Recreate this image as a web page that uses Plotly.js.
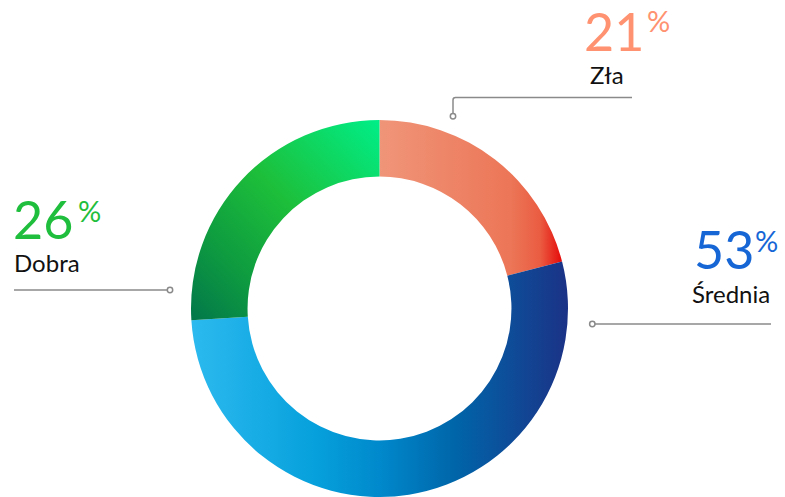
<!DOCTYPE html>
<html>
<head>
<meta charset="utf-8">
<script src="https://cdn.plot.ly/plotly-3.0.1.min.js"></script>
<style>
html,body{margin:0;padding:0;background:#fff;}
#chart{width:785px;height:497px;}
</style>
</head>
<body>
<div id="chart"></div>
<script>
// ---- data ----
const categories = ['Zła', 'Średnia', 'Dobra'];
const percents = [21, 53, 26];

// ---- styling ----
const W = 785, H = 497;
const X = p => p / W;
const Y = p => 1 - p / H;
const FONT = 'Lato, "Open Sans", sans-serif';
const textColors = ['#FF9270', '#1766D6', '#1FBE3C'];
const baseColors = ['#EC7A5E', '#0088CC', '#1BC03C'];
const gradients = [
  {x1:0, y1:0, x2:1, y2:0, stops:[[0,'#F09579'],[0.72,'#EC7657'],[0.88,'#EA5C42'],[1,'#E50A0A']]},
  {x1:0, y1:0, x2:1, y2:0, stops:[[0,'#2CBAEF'],[0.33,'#06A0DC'],[0.5,'#0089CC'],[0.7,'#0065A9'],[0.86,'#0F4A97'],[1,'#1B3286']]},
  {x1:1, y1:0, x2:0, y2:1, stops:[[0,'#00EE88'],[0.45,'#1DBF3A'],[0.75,'#0E9B40'],[1,'#02774A']]}
];

// label placement (pixels)
const place = [
  {nx:585, ny:31, px:647, py:20, lx:590, ly:74},
  {nx:695, ny:249, px:755, py:241, lx:692, ly:293},
  {nx:14, ny:219, px:78, py:210, lx:14, ly:262}
];

const annotations = [];
categories.forEach((c, i) => {
  const p = place[i];
  annotations.push({xref:'paper', yref:'paper', x:X(p.nx - 3), y:Y(p.ny), xanchor:'left', yanchor:'middle',
    height:46, valign:'middle',
    text:String(percents[i]), showarrow:false, font:{family:FONT, size:52, color:textColors[i]}});
  annotations.push({xref:'paper', yref:'paper', x:X(p.px - 2), y:Y(p.py), xanchor:'left', yanchor:'middle',
    text:'%', showarrow:false, font:{family:FONT, size:29, color:textColors[i]}});
  annotations.push({xref:'paper', yref:'paper', x:X(p.lx - 2), y:Y(p.ly), xanchor:'left', yanchor:'middle',
    height:24, valign:'middle',
    text:c, showarrow:false, font:{family:FONT, size:24, color:'#111111'}});
});

const lineStyle = {color:'#8a8a8a', width:1.5};
const shapes = [
  {type:'path', xref:'paper', yref:'paper',
   path:`M ${X(453)} ${Y(113)} L ${X(453)} ${Y(100)} Q ${X(453)} ${Y(97.5)} ${X(455.5)} ${Y(97.5)} L ${X(632)} ${Y(97.5)}`,
   line:lineStyle},
  {type:'circle', xref:'paper', yref:'paper', x0:X(450.3), x1:X(455.7), y0:Y(113.6), y1:Y(119), line:lineStyle, fillcolor:'#fff'},
  {type:'line', xref:'paper', yref:'paper', x0:X(595), x1:X(771), y0:Y(324), y1:Y(324), line:lineStyle},
  {type:'circle', xref:'paper', yref:'paper', x0:X(589.6), x1:X(595), y0:Y(321.3), y1:Y(326.7), line:lineStyle, fillcolor:'#fff'},
  {type:'line', xref:'paper', yref:'paper', x0:X(14), x1:X(167.5), y0:Y(290), y1:Y(290), line:lineStyle},
  {type:'circle', xref:'paper', yref:'paper', x0:X(167.3), x1:X(172.7), y0:Y(287.3), y1:Y(292.7), line:lineStyle, fillcolor:'#fff'}
];

const trace = {
  type:'pie',
  labels:categories,
  values:percents,
  hole:0.70,
  sort:false,
  direction:'clockwise',
  rotation:0,
  textinfo:'none',
  hoverinfo:'none',
  marker:{colors:baseColors, line:{width:0}},
  domain:{x:[X(190.8), X(568.2)], y:[0, Y(120)]},
  showlegend:false
};

const layout = {
  width:W, height:H,
  margin:{l:0, r:0, t:0, b:0},
  paper_bgcolor:'#ffffff',
  plot_bgcolor:'#ffffff',
  showlegend:false,
  annotations:annotations,
  shapes:shapes,
  font:{family:FONT}
};

Plotly.newPlot('chart', [trace], layout, {staticPlot:true, displayModeBar:false}).then(gd => {
  const svg = gd.querySelector('svg.main-svg');
  const NS = 'http://www.w3.org/2000/svg';
  const defs = document.createElementNS(NS, 'defs');
  gradients.forEach((g, i) => {
    const lg = document.createElementNS(NS, 'linearGradient');
    lg.setAttribute('id', 'sliceGrad' + i);
    lg.setAttribute('x1', g.x1); lg.setAttribute('y1', g.y1);
    lg.setAttribute('x2', g.x2); lg.setAttribute('y2', g.y2);
    g.stops.forEach(s => {
      const st = document.createElementNS(NS, 'stop');
      st.setAttribute('offset', s[0]);
      st.setAttribute('stop-color', s[1]);
      lg.appendChild(st);
    });
    defs.appendChild(lg);
  });
  svg.insertBefore(defs, svg.firstChild);
  const paths = gd.querySelectorAll('g.slice path.surface');
  paths.forEach((p, i) => { if (gradients[i]) p.style.fill = 'url(#sliceGrad' + i + ')'; });
});
</script>
</body>
</html>
